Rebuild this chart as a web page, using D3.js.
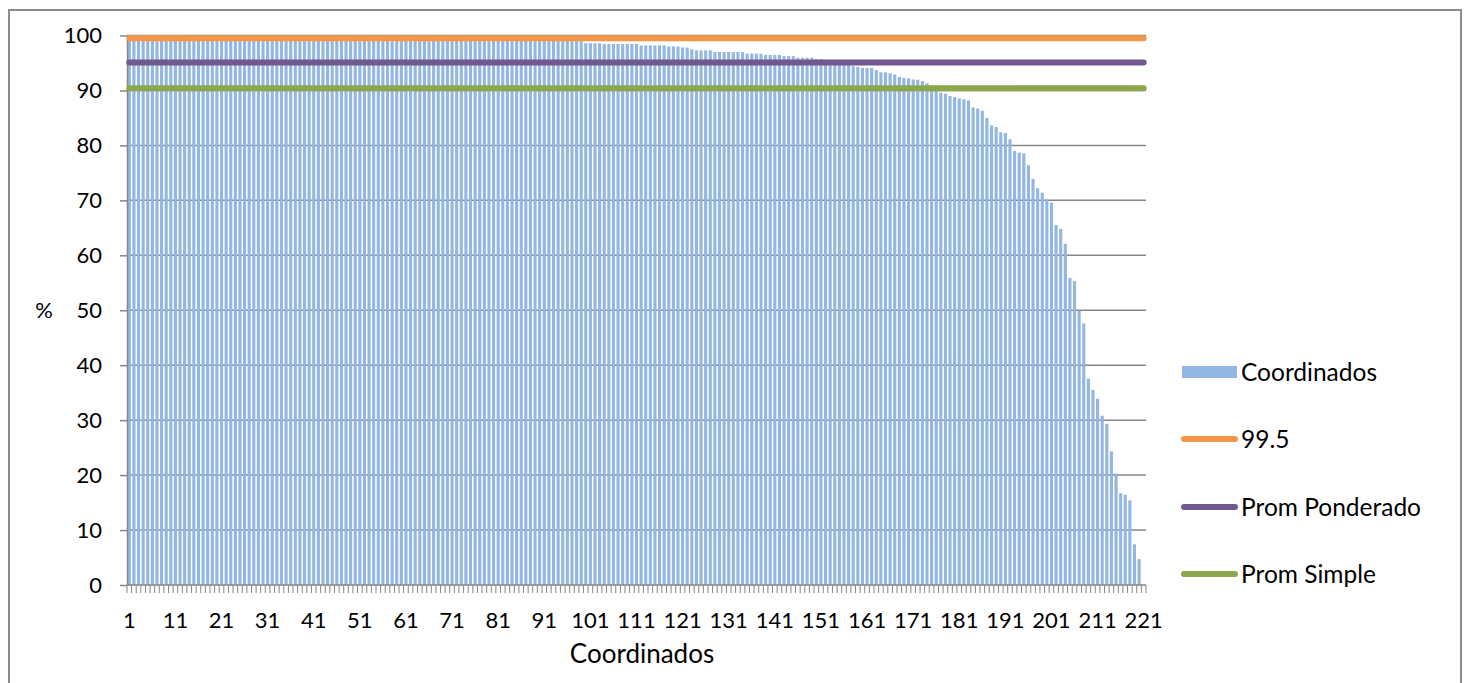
<!DOCTYPE html>
<html>
<head>
<meta charset="utf-8">
<script src="https://cdn.jsdelivr.net/npm/d3@7"></script>
<style>
  body { margin: 0; background: #fff; }
  text { font-family: Lato, "Open Sans", sans-serif; fill: #000; }
</style>
</head>
<body>
<svg id="chart" width="1467" height="683"></svg>
<script>
// categories 1..221
var categories = d3.range(1, 222);

// Coordinados (%), sorted descending
var coordinados = [
  100, 100, 100, 100, 100, 100, 100, 100, 100, 100,
  100, 100, 99.9, 99.9, 99.9, 99.9, 99.9, 99.9, 99.9, 99.9,
  99.9, 99.9, 99.9, 99.9, 99.9, 99.8, 99.8, 99.8, 99.8, 99.8,
  99.8, 99.8, 99.8, 99.8, 99.8, 99.8, 99.8, 99.8, 99.8, 99.8,
  99.7, 99.7, 99.7, 99.7, 99.7, 99.7, 99.7, 99.7, 99.7, 99.7,
  99.7, 99.7, 99.7, 99.7, 99.7, 99.6, 99.6, 99.6, 99.6, 99.6,
  99.6, 99.6, 99.6, 99.6, 99.6, 99.6, 99.6, 99.6, 99.5, 99.5,
  99.5, 99.5, 99.5, 99.5, 99.5, 99.5, 99.5, 99.5, 99.4, 99.4,
  99.4, 99.4, 99.4, 99.4, 99.4, 99.4, 99.3, 99.3, 99.3, 99.3,
  99.3, 99.3, 99.2, 99.2, 99.2, 99.2, 99.1, 99.1, 99.1, 98.6,
  98.6, 98.6, 98.6, 98.45, 98.45, 98.45, 98.45, 98.45, 98.45, 98.45,
  98.45, 98.2, 98.2, 98.2, 98.2, 98.2, 98.2, 98.0, 98.0, 98.0,
  97.8, 97.8, 97.5, 97.3, 97.3, 97.3, 97.3, 97.0, 97.0, 97.0,
  97.0, 97.0, 97.0, 97.0, 96.7, 96.7, 96.7, 96.7, 96.45, 96.45,
  96.45, 96.45, 96.25, 96.25, 96.25, 95.95, 95.95, 95.95, 95.95, 95.7,
  95.7, 95.5, 95.3, 95.2, 95.0, 94.9, 94.7, 94.45, 94.3, 94.1,
  94.1, 94.1, 93.7, 93.3, 93.3, 93.1, 92.9, 92.45, 92.3, 92.2,
  92.0, 91.95, 91.7, 91.3, 90.9, 90.5, 89.6, 89.4, 89.0, 88.8,
  88.55, 88.4, 88.2, 86.9, 86.7, 86.3, 85.0, 83.65, 83.35, 82.4,
  82.25, 81.1, 79.0, 78.7, 78.55, 76.4, 73.9, 72.2, 71.4, 70.2,
  69.6, 65.5, 64.8, 62.1, 55.9, 55.3, 49.9, 47.6, 37.55, 35.5,
  33.9, 30.8, 29.35, 24.3, 20.3, 16.7, 16.4, 15.4, 7.4, 4.7,
  0
];

// reference lines
var lineNames = ["99.5", "Prom Ponderado", "Prom Simple"];
var lineValues = [99.5, 95.1, 90.4];
var lineColors = ["#F79646", "#71598F", "#8AA84B"];

var xTickLabels = [1, 11, 21, 31, 41, 51, 61, 71, 81, 91, 101, 111, 121, 131, 141, 151, 161, 171, 181, 191, 201, 211, 221];
var yTickLabels = [0, 10, 20, 30, 40, 50, 60, 70, 80, 90, 100];

var barColor = "#93B6E2",
  axisColor = "#868686";

var svg = d3.select("#chart"),
  plot = { left: 127, right: 1146, top: 35.5, bottom: 585 };

// outer chart border
svg.append("rect")
  .attr("x", 9).attr("y", 10)
  .attr("width", 1452).attr("height", 700)
  .attr("fill", "#fff")
  .attr("stroke", "#8c8c8c")
  .attr("stroke-width", 2);

var x = d3.scaleBand().domain(categories).range([plot.left, plot.right]).padding(0),
  y = d3.scaleLinear().domain([0, 100]).range([plot.bottom, plot.top]);

var step = x.step(),
  barW = step * 0.68;

// gridlines
svg.append("g")
  .selectAll("line")
  .data(yTickLabels.slice(1))
  .enter().append("line")
  .attr("x1", plot.left).attr("x2", plot.right)
  .attr("y1", function (d) { return y(d); })
  .attr("y2", function (d) { return y(d); })
  .attr("stroke", axisColor)
  .attr("stroke-width", 1.5);

// bars
svg.append("g")
  .selectAll("rect")
  .data(coordinados)
  .enter().append("rect")
  .attr("x", function (d, i) { return x(categories[i]) + (step - barW) / 2; })
  .attr("y", function (d) { return y(d); })
  .attr("width", barW)
  .attr("height", function (d) { return y(0) - y(d); })
  .attr("fill", barColor);

// y axis
var yAxis = svg.append("g")
  .attr("transform", "translate(" + plot.left + ",0)")
  .call(d3.axisLeft(y).tickValues(yTickLabels).tickSize(7).tickPadding(18).tickSizeOuter(0));
yAxis.select(".domain").attr("stroke", axisColor).attr("stroke-width", 1.5);
yAxis.selectAll(".tick line").attr("stroke", axisColor).attr("stroke-width", 1.5);
yAxis.selectAll(".tick text")
  .style("font-family", "Lato, 'Open Sans', sans-serif")
  .style("font-size", "22px")
  .attr("fill", "#000");

// x axis: line + category boundary ticks
var xg = svg.append("g");
xg.append("line")
  .attr("x1", plot.left).attr("x2", plot.right)
  .attr("y1", y(0)).attr("y2", y(0))
  .attr("stroke", axisColor).attr("stroke-width", 1.5);
xg.selectAll(".minor")
  .data(categories.concat([null]))
  .enter().append("line")
  .attr("class", "minor")
  .attr("x1", function (d) { return d === null ? plot.right : x(d); })
  .attr("x2", function (d) { return d === null ? plot.right : x(d); })
  .attr("y1", y(0)).attr("y2", y(0) + 8)
  .attr("stroke", axisColor).attr("stroke-width", 1);

xg.selectAll(".xlabel")
  .data(xTickLabels)
  .enter().append("text")
  .attr("class", "xlabel")
  .attr("x", function (d) { return x(d) + step / 2; })
  .attr("y", 620)
  .attr("dy", "0.35em")
  .attr("text-anchor", "middle")
  .style("font-size", "22px")
  .text(function (d) { return d; });

// axis titles
svg.append("text")
  .attr("x", 642)
  .attr("y", 663)
  .attr("text-anchor", "middle")
  .style("font-size", "26px")
  .text("Coordinados");

svg.append("text")
  .attr("x", 44)
  .attr("y", 310)
  .attr("dy", "0.35em")
  .attr("text-anchor", "middle")
  .style("font-size", "22px")
  .text("%");

// constant lines across all categories
var line = d3.line()
  .x(function (d) { return x(d.cat) + step / 2; })
  .y(function (d) { return y(d.value); });

lineValues.forEach(function (v, k) {
  var pts = categories.map(function (c) { return { cat: c, value: v }; });
  svg.append("path")
    .datum(pts)
    .attr("d", line)
    .attr("fill", "none")
    .attr("stroke", lineColors[k])
    .attr("stroke-width", 6)
    .attr("stroke-linecap", "round");
});

// legend
var legend = svg.append("g").attr("transform", "translate(1182,0)");
var legendY = [372, 439, 507, 574];

legend.append("rect")
  .attr("x", 0).attr("y", legendY[0] - 6)
  .attr("width", 55).attr("height", 12)
  .attr("fill", barColor);
legend.append("text")
  .attr("x", 59).attr("y", legendY[0])
  .attr("dy", "0.35em")
  .style("font-size", "24.5px")
  .text("Coordinados");

lineNames.forEach(function (n, k) {
  legend.append("line")
    .attr("x1", 2).attr("x2", 53)
    .attr("y1", legendY[k + 1]).attr("y2", legendY[k + 1])
    .attr("stroke", lineColors[k])
    .attr("stroke-width", 6)
    .attr("stroke-linecap", "round");
  legend.append("text")
    .attr("x", 59).attr("y", legendY[k + 1])
    .attr("dy", "0.35em")
    .style("font-size", "24.5px")
    .text(n);
});
</script>
</body>
</html>
